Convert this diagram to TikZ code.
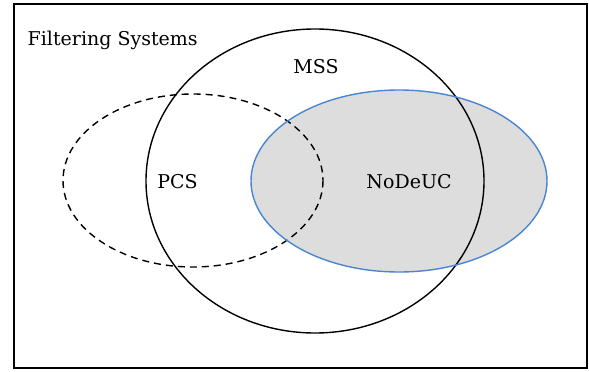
\documentclass[tikz,border=0pt]{standalone}
\usepackage{fontspec}
\setmainfont{DejaVu Serif}
\definecolor{fillgrey}{HTML}{DDDDDD}
\definecolor{ellblue}{HTML}{4A86D0}
\begin{document}
\begin{tikzpicture}[x=1pt,y=-1pt,
  lbl/.style={font=\fontsize{19}{22}\selectfont, inner sep=0pt, anchor=base},
  setline/.style={line width=1.4pt}]
\useasboundingbox (0,0) rectangle (589,372);
\node[draw, line width=1.4pt, minimum width=573pt, minimum height=364pt, inner sep=0pt] (frame) at (300.5,186) {};
\fill[fillgrey] (399,181) ellipse [x radius=148, y radius=91];
\draw[setline] (315,181) ellipse [x radius=169, y radius=152];
\draw[setline, dash pattern=on 7pt off 5pt] (193,180.5) ellipse [x radius=130, y radius=86.5];
\draw[line width=1.4pt, ellblue] (399,181) ellipse [x radius=148, y radius=91];
\node[lbl, anchor=base west] (fs) at (27.5,45) {Filtering Systems};
\node[lbl] (mss) at (316,73) {MSS};
\node[lbl] (pcs) at (177.5,188) {PCS};
\node[lbl] (nodeuc) at (409,188) {NoDeUC};
\end{tikzpicture}
\end{document}
